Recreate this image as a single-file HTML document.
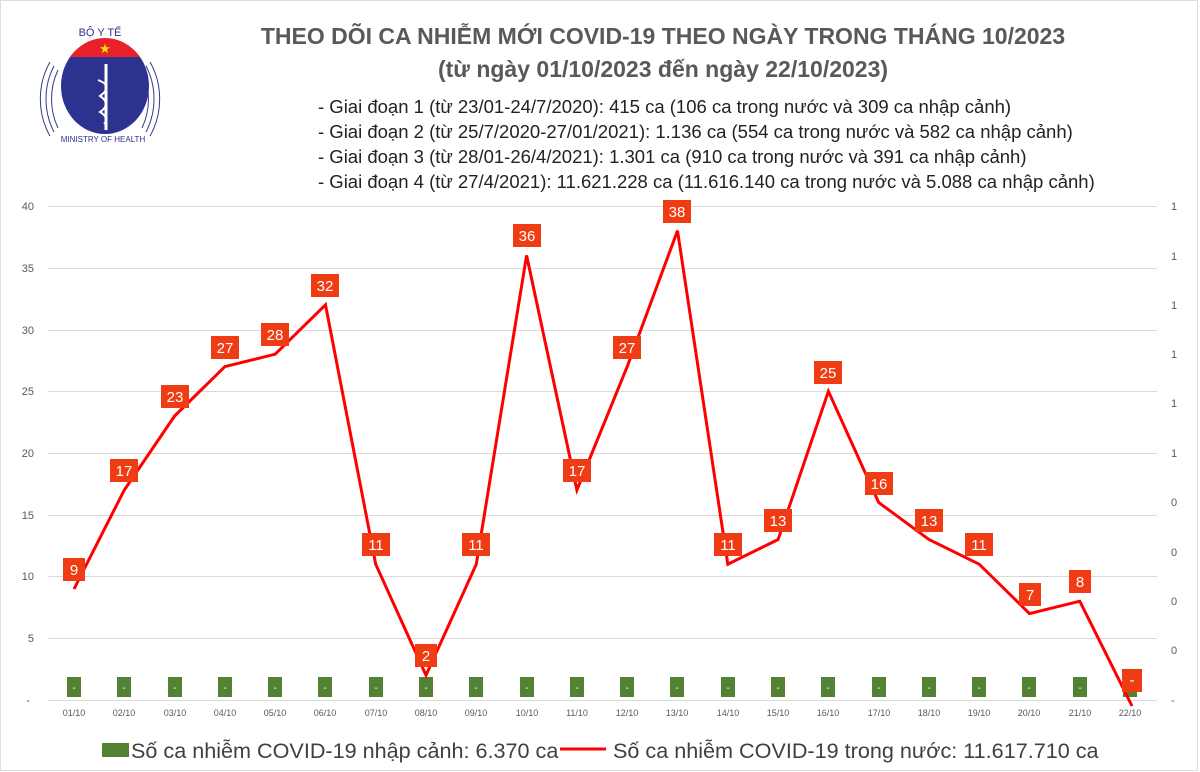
<!DOCTYPE html>
<html><head><meta charset="utf-8"><style>
body{margin:0;background:#fff;}
svg{display:block;font-family:"Liberation Sans",sans-serif;}
.lb rect{fill:#f03c14}
.lb text{fill:#fff;font-size:15px;text-anchor:middle}
.ax{fill:#595959;font-size:11px}
.xl{fill:#595959;font-size:9px;text-anchor:middle}
</style></head><body>
<svg width="1200" height="772" viewBox="0 0 1200 772">
<rect x="0.5" y="0.5" width="1197" height="770" fill="#fff" stroke="#ddd"/>
<!-- logo -->
<g>
<path d="M58 70 A52 60 0 0 0 58 128" fill="none" stroke="#333a8c" stroke-width="1"/>
<path d="M54 66 A56 64 0 0 0 54 132" fill="none" stroke="#333a8c" stroke-width="1"/>
<path d="M50 62 A60 68 0 0 0 50 136" fill="none" stroke="#333a8c" stroke-width="1"/>
<path d="M142 70 A52 60 0 0 1 142 128" fill="none" stroke="#333a8c" stroke-width="1"/>
<path d="M146 66 A56 64 0 0 1 146 132" fill="none" stroke="#333a8c" stroke-width="1"/>
<path d="M150 62 A60 68 0 0 1 150 136" fill="none" stroke="#333a8c" stroke-width="1"/>
<clipPath id="c"><ellipse cx="105" cy="86" rx="44" ry="48"/></clipPath>
<g clip-path="url(#c)">
<rect x="55" y="30" width="100" height="27" fill="#e8212a"/>
<rect x="55" y="57" width="100" height="90" fill="#2b3290"/>
</g>
<text x="105" y="53" fill="#ffe600" font-size="13" text-anchor="middle">★</text>
<line x1="106" y1="64" x2="106" y2="130" stroke="#fff" stroke-width="3"/>
<path d="M98 80 Q114 86 100 96 Q112 104 100 112 Q110 118 104 124" fill="none" stroke="#fff" stroke-width="2"/>
<text x="100" y="36" fill="#2b3290" font-size="11" text-anchor="middle">BỘ Y TẾ</text>
<text x="103" y="142" fill="#2b3290" font-size="8" text-anchor="middle">MINISTRY OF HEALTH</text>
</g>
<!-- title -->
<text x="663" y="44" fill="#595959" font-size="23" font-weight="bold" text-anchor="middle">THEO DÕI CA NHIỄM MỚI COVID-19 THEO NGÀY TRONG THÁNG 10/2023</text>
<text x="663" y="77" fill="#595959" font-size="23" font-weight="bold" text-anchor="middle">(từ ngày 01/10/2023 đến ngày 22/10/2023)</text>
<g fill="#222" font-size="18.5">
<text x="318" y="113">- Giai đoạn 1 (từ 23/01-24/7/2020): 415 ca (106 ca trong nước và 309 ca nhập cảnh)</text>
<text x="318" y="138">- Giai đoạn 2 (từ 25/7/2020-27/01/2021): 1.136 ca (554 ca trong nước và 582 ca nhập cảnh)</text>
<text x="318" y="163">- Giai đoạn 3 (từ 28/01-26/4/2021): 1.301 ca (910 ca trong nước và 391 ca nhập cảnh)</text>
<text x="318" y="188">- Giai đoạn 4 (từ 27/4/2021): 11.621.228 ca (11.616.140 ca trong nước và 5.088 ca nhập cảnh)</text>
</g>
<!-- grid -->
<g stroke="#d9d9d9" stroke-width="1">
<line x1="48" y1="206.5" x2="1157" y2="206.5"/>
<line x1="48" y1="268.5" x2="1157" y2="268.5"/>
<line x1="48" y1="330.5" x2="1157" y2="330.5"/>
<line x1="48" y1="391.5" x2="1157" y2="391.5"/>
<line x1="48" y1="453.5" x2="1157" y2="453.5"/>
<line x1="48" y1="515.5" x2="1157" y2="515.5"/>
<line x1="48" y1="576.5" x2="1157" y2="576.5"/>
<line x1="48" y1="638.5" x2="1157" y2="638.5"/>
<line x1="48" y1="700.5" x2="1157" y2="700.5"/>
</g>
<g class="ax" text-anchor="end">
<text x="34" y="210">40</text><text x="34" y="272">35</text><text x="34" y="334">30</text>
<text x="34" y="395">25</text><text x="34" y="457">20</text><text x="34" y="519">15</text>
<text x="34" y="580">10</text><text x="34" y="642">5</text><text x="30" y="704">-</text>
</g>
<g class="ax">
<text x="1171" y="210">1</text><text x="1171" y="260">1</text><text x="1171" y="309">1</text>
<text x="1171" y="358">1</text><text x="1171" y="407">1</text><text x="1171" y="457">1</text>
<text x="1171" y="506">0</text><text x="1171" y="556">0</text><text x="1171" y="605">0</text>
<text x="1171" y="654">0</text><text x="1171" y="704">-</text>
</g>
<!-- green bars -->
<g fill="#548235">
<rect x="67" y="677" width="14" height="20"/><rect x="117" y="677" width="14" height="20"/><rect x="168" y="677" width="14" height="20"/>
<rect x="218" y="677" width="14" height="20"/><rect x="268" y="677" width="14" height="20"/><rect x="318" y="677" width="14" height="20"/>
<rect x="369" y="677" width="14" height="20"/><rect x="419" y="677" width="14" height="20"/><rect x="469" y="677" width="14" height="20"/>
<rect x="520" y="677" width="14" height="20"/><rect x="570" y="677" width="14" height="20"/><rect x="620" y="677" width="14" height="20"/>
<rect x="670" y="677" width="14" height="20"/><rect x="721" y="677" width="14" height="20"/><rect x="771" y="677" width="14" height="20"/>
<rect x="821" y="677" width="14" height="20"/><rect x="872" y="677" width="14" height="20"/><rect x="922" y="677" width="14" height="20"/>
<rect x="972" y="677" width="14" height="20"/><rect x="1022" y="677" width="14" height="20"/><rect x="1073" y="677" width="14" height="20"/>
<rect x="1123" y="677" width="14" height="20"/>
</g>
<g fill="#fff" font-size="10" text-anchor="middle">
<text x="74" y="691">-</text><text x="124" y="691">-</text><text x="175" y="691">-</text><text x="225" y="691">-</text>
<text x="275" y="691">-</text><text x="325" y="691">-</text><text x="376" y="691">-</text><text x="426" y="691">-</text>
<text x="476" y="691">-</text><text x="527" y="691">-</text><text x="577" y="691">-</text><text x="627" y="691">-</text>
<text x="677" y="691">-</text><text x="728" y="691">-</text><text x="778" y="691">-</text><text x="828" y="691">-</text>
<text x="879" y="691">-</text><text x="929" y="691">-</text><text x="979" y="691">-</text><text x="1029" y="691">-</text>
<text x="1080" y="691">-</text>
</g>
<!-- line -->
<polyline fill="none" stroke="#ff0000" stroke-width="3" stroke-linejoin="miter" points="74,589 124.3,490 174.6,416 224.9,366.6 275.2,354.2 325.5,304.8 375.7,564.2 426,675.3 476.3,564.2 526.6,255.4 576.9,490 627.2,366.6 677.5,230.7 727.8,564.2 778.1,539.5 828.4,391.3 878.6,502.4 928.9,539.5 979.2,564.2 1029.5,613.6 1079.8,601.2 1132,706"/>
<!-- labels -->
<g class="lb">
<rect x="63" y="558" width="22" height="23"/><text x="74" y="575">9</text>
<rect x="110" y="459" width="28" height="23"/><text x="124" y="476">17</text>
<rect x="161" y="385" width="28" height="23"/><text x="175" y="402">23</text>
<rect x="211" y="336" width="28" height="23"/><text x="225" y="353">27</text>
<rect x="261" y="323" width="28" height="23"/><text x="275" y="340">28</text>
<rect x="311" y="274" width="28" height="23"/><text x="325" y="291">32</text>
<rect x="362" y="533" width="28" height="23"/><text x="376" y="550">11</text>
<rect x="415" y="644" width="22" height="23"/><text x="426" y="661">2</text>
<rect x="462" y="533" width="28" height="23"/><text x="476" y="550">11</text>
<rect x="513" y="224" width="28" height="23"/><text x="527" y="241">36</text>
<rect x="563" y="459" width="28" height="23"/><text x="577" y="476">17</text>
<rect x="613" y="336" width="28" height="23"/><text x="627" y="353">27</text>
<rect x="663" y="200" width="28" height="23"/><text x="677" y="217">38</text>
<rect x="714" y="533" width="28" height="23"/><text x="728" y="550">11</text>
<rect x="764" y="509" width="28" height="23"/><text x="778" y="526">13</text>
<rect x="814" y="361" width="28" height="23"/><text x="828" y="378">25</text>
<rect x="865" y="472" width="28" height="23"/><text x="879" y="489">16</text>
<rect x="915" y="509" width="28" height="23"/><text x="929" y="526">13</text>
<rect x="965" y="533" width="28" height="23"/><text x="979" y="550">11</text>
<rect x="1019" y="583" width="22" height="23"/><text x="1030" y="600">7</text>
<rect x="1069" y="570" width="22" height="23"/><text x="1080" y="587">8</text>
<rect x="1122" y="669" width="20" height="23"/><text x="1132" y="685">-</text>
</g>
<!-- x labels -->
<g class="xl">
<text x="74" y="716">01/10</text><text x="124" y="716">02/10</text><text x="175" y="716">03/10</text><text x="225" y="716">04/10</text>
<text x="275" y="716">05/10</text><text x="325" y="716">06/10</text><text x="376" y="716">07/10</text><text x="426" y="716">08/10</text>
<text x="476" y="716">09/10</text><text x="527" y="716">10/10</text><text x="577" y="716">11/10</text><text x="627" y="716">12/10</text>
<text x="677" y="716">13/10</text><text x="728" y="716">14/10</text><text x="778" y="716">15/10</text><text x="828" y="716">16/10</text>
<text x="879" y="716">17/10</text><text x="929" y="716">18/10</text><text x="979" y="716">19/10</text><text x="1029" y="716">20/10</text>
<text x="1080" y="716">21/10</text><text x="1130" y="716">22/10</text>
</g>
<!-- legend -->
<rect x="102" y="743" width="27" height="14" fill="#548235"/>
<text x="131" y="758" fill="#404040" font-size="21.6">Số ca nhiễm COVID-19 nhập cảnh: 6.370 ca</text>
<line x1="560" y1="749" x2="606" y2="749" stroke="#ff0000" stroke-width="3"/>
<text x="613" y="758" fill="#404040" font-size="21.6">Số ca nhiễm COVID-19 trong nước: 11.617.710 ca</text>
</svg>
</body></html>
